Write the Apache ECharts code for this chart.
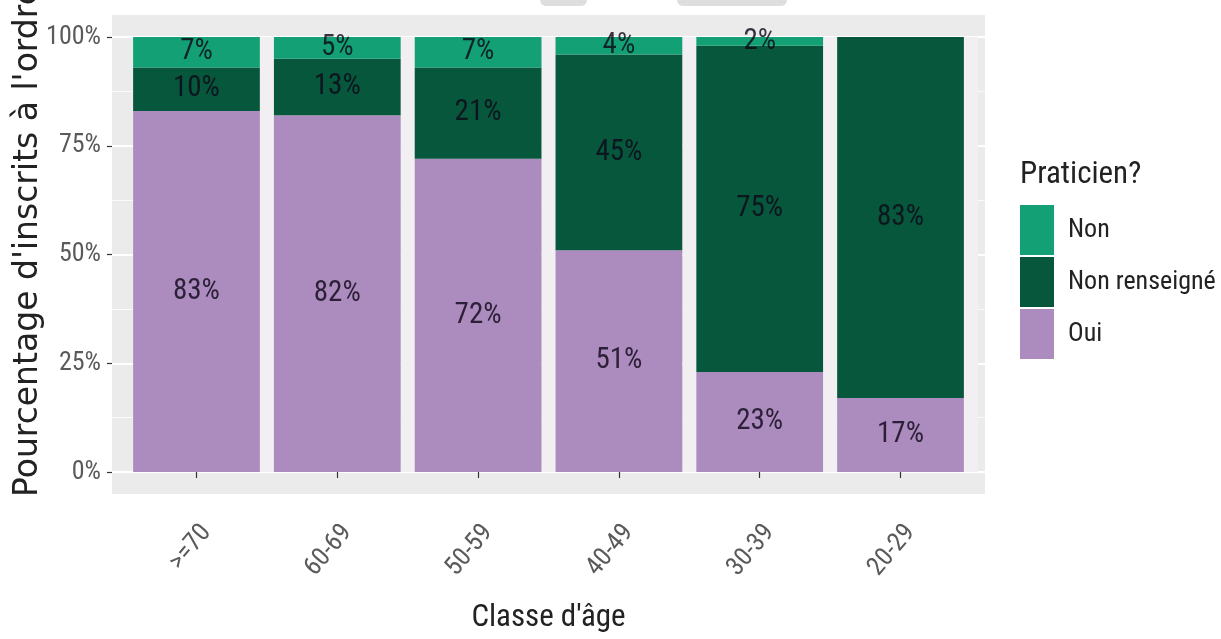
<!DOCTYPE html>
<html>
<head>
<meta charset="utf-8">
<script src="https://cdn.jsdelivr.net/npm/echarts@6/dist/echarts.min.js"></script>
<style>
html,body{margin:0;padding:0;background:#fff;}
#chart{width:1221px;height:639px;}
</style>
</head>
<body>
<div id="chart"></div>
<script>
const categories = ['>=70', '60-69', '50-59', '40-49', '30-39', '20-29'];
const oui = [83, 82, 72, 51, 23, 17];
const nonRenseigne = [10, 13, 21, 45, 75, 83];
const non = [7, 5, 7, 4, 2, 0];
const yTicks = [0, 25, 50, 75, 100];

const NARROW = "'Liberation Sans Narrow', 'Arial Narrow', 'Roboto Condensed', 'Liberation Sans', sans-serif";
const colors = { 'Non': '#13a074', 'Non renseigné': '#06573b', 'Oui': '#ac8bbf' };

const panel = { left: 112, right: 985, top: 15, bottom: 494 };
const unit = (panel.right - panel.left) / 6.2;
const y100 = 37, y0 = 472;

const chart = echarts.init(document.getElementById('chart'), null, { renderer: 'canvas' });

function mkSeries(name, data) {
  return {
    name: name, type: 'bar', stack: 'total',
    xAxisIndex: 1, yAxisIndex: 1,
    barWidth: '90%',
    itemStyle: { color: colors[name] },
    label: {
      show: true, position: 'inside',
      formatter: p => p.value > 0 ? p.value + '%' : '',
      fontFamily: NARROW, fontSize: 29, color: 'rgba(15,8,25,0.82)'
    },
    emphasis: { disabled: true },
    data: data
  };
}

chart.setOption({
  animation: false,
  backgroundColor: '#ffffff',
  grid: [
    { left: panel.left, width: panel.right - panel.left, top: y100, height: y0 - y100 },
    { left: panel.left + 0.1 * unit, width: 6 * unit, top: y100, height: y0 - y100 }
  ],
  xAxis: [
    { type: 'value', gridIndex: 0, min: 0, max: 1, show: false },
    {
      type: 'category', gridIndex: 1, data: categories, offset: panel.bottom - y0,
      axisLine: { show: false },
      axisTick: { show: true, alignWithLabel: true, length: 6, lineStyle: { color: '#333', width: 1.2 } },
      splitLine: { show: true, interval: (i) => i > 0, lineStyle: { color: '#f1eff1', width: 14 } },
      axisLabel: {
        rotate: 50, align: 'right', verticalAlign: 'top', margin: 26,
        fontFamily: NARROW, fontSize: 26, color: '#5a5a5a', interval: 0
      }
    }
  ],
  yAxis: [
    {
      type: 'value', gridIndex: 0, min: 0, max: 100, interval: 25,
      axisLine: { show: false },
      axisTick: { show: true, length: 5, lineStyle: { color: '#333', width: 1.2 } },
      axisLabel: {
        margin: 11, fontFamily: NARROW, fontSize: 26, color: '#5a5a5a',
        formatter: v => yTicks.includes(v) ? v + '%' : ''
      },
      splitLine: { show: true, lineStyle: { color: '#ffffff', width: 2.2 } },
      minorTick: { show: false, splitNumber: 2 },
      minorSplitLine: { show: true, lineStyle: { color: '#fafafa', width: 1 } }
    },
    { type: 'value', gridIndex: 1, min: 0, max: 100, show: false }
  ],
  legend: {
    orient: 'vertical', left: 1020, top: 205, padding: 0,
    itemWidth: 34, itemHeight: 50, itemGap: 2,
    icon: 'rect',
    data: ['Non', 'Non renseigné', 'Oui'],
    textStyle: { fontFamily: NARROW, fontSize: 26, color: '#222', padding: [0, 0, 0, 9] },
    selectedMode: false
  },
  graphic: [
    { type: 'rect', z: -10, silent: true,
      shape: { x: panel.left, y: panel.top, width: panel.right - panel.left, height: panel.bottom - panel.top },
      style: { fill: '#ebebeb' } },
    { type: 'rect', z: -10, silent: true, shape: { x: 540, y: -10, width: 47, height: 16, r: 6 }, style: { fill: '#dedede' } },
    { type: 'rect', z: -10, silent: true, shape: { x: 677, y: -10, width: 110, height: 16, r: 6 }, style: { fill: '#dedede' } },
    { type: 'text', silent: true, x: 28, y: 497, rotation: Math.PI / 2,
      style: { text: "Pourcentage d'inscrits à l'ordre", fontFamily: "'DejaVu Sans', sans-serif", fontSize: 33,
        fill: '#222', align: 'left', verticalAlign: 'middle' } },
    { type: 'text', silent: true, x: (panel.left + panel.right) / 2, y: 618,
      style: { text: "Classe d'âge", fontFamily: NARROW, fontSize: 31, fill: '#222', align: 'center', verticalAlign: 'middle' } },
    { type: 'text', silent: true, x: 1020, y: 175,
      style: { text: 'Praticien?', fontFamily: NARROW, fontSize: 31, fill: '#222', align: 'left', verticalAlign: 'middle' } }
  ],
  series: [
    mkSeries('Oui', oui),
    mkSeries('Non renseigné', nonRenseigne),
    mkSeries('Non', non)
  ]
});
</script>
</body>
</html>
